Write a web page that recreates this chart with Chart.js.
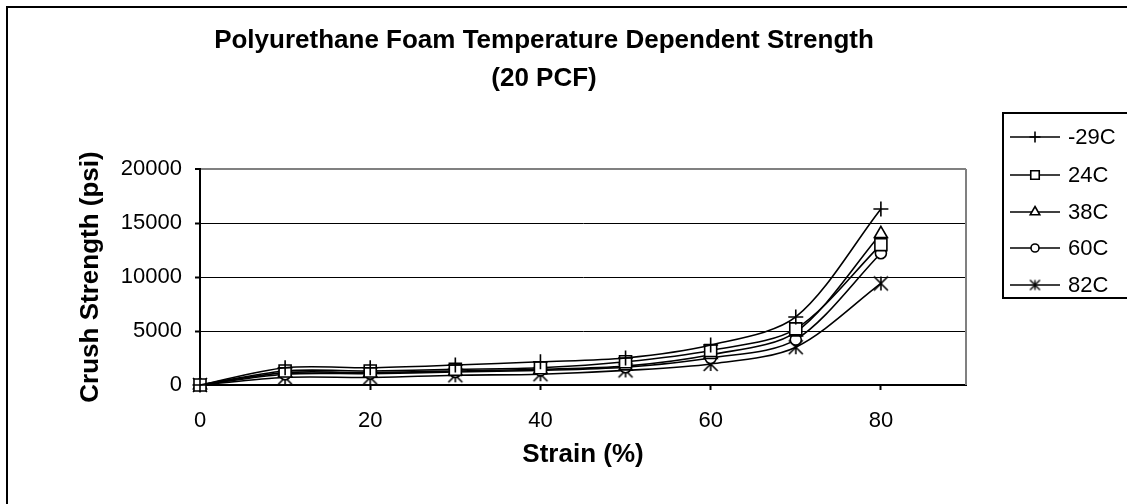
<!DOCTYPE html>
<html>
<head>
<meta charset="utf-8">
<script src="https://cdn.jsdelivr.net/npm/chart.js@4.4.0/dist/chart.umd.min.js"></script>
<style>
  html, body { margin: 0; padding: 0; background: #fff; overflow: hidden; }
  #c { display: block; }
</style>
</head>
<body>
<canvas id="c" width="1127" height="504"></canvas>
<script>
const FONT = '"Liberation Sans", Arial, Helvetica, sans-serif';

// data
const strain = [0, 10, 20, 30, 40, 50, 60, 70, 80];
const minus29C = [0, 1600, 1600, 1850, 2150, 2500, 3700, 6300, 16300];
const plus24C = [0, 1300, 1300, 1450, 1600, 2150, 3200, 5200, 13000];
const plus38C = [0, 1150, 1150, 1300, 1450, 1750, 2800, 4900, 14000];
const plus60C = [0, 1000, 1050, 1200, 1350, 1650, 2500, 4200, 12200];
const plus82C = [0, 700, 700, 900, 1000, 1350, 1950, 3500, 9400];

const seriesNames = ['-29C', '24C', '38C', '60C', '82C'];
const seriesValues = [minus29C, plus24C, plus38C, plus60C, plus82C];

const xTicks = [0, 20, 40, 60, 80];
const yTicks = [0, 5000, 10000, 15000, 20000];

// Excel-like "star" marker: an X with a vertical bar
function starMarker(r, lw) {
  const c = document.createElement('canvas');
  const s = Math.ceil(r * 2 + lw * 2);
  c.width = s; c.height = s;
  const g = c.getContext('2d');
  const m = s / 2;
  g.strokeStyle = '#000';
  g.lineWidth = lw;
  g.beginPath();
  g.moveTo(m - r, m - r); g.lineTo(m + r, m + r);
  g.moveTo(m + r, m - r); g.lineTo(m - r, m + r);
  g.moveTo(m, m - r); g.lineTo(m, m + r);
  g.stroke();
  return c;
}

const markerStyles = ['cross', 'rect', 'triangle', 'circle', starMarker(7, 1.6)];
const legendStyles = ['cross', 'rect', 'triangle', 'circle', starMarker(5, 1.4)];
const markerSizes = [7.5, 8.5, 7.5, 5.5, 7];
const legendSizes = [5.5, 6, 5.5, 4, 5.5];

const datasets = seriesNames.map((name, i) => ({
  label: name,
  data: strain.map((x, j) => ({ x, y: seriesValues[i][j] })),
  borderColor: '#000',
  borderWidth: 1.6,
  tension: 0.3,
  pointStyle: markerStyles[i],
  pointRadius: markerSizes[i],
  pointBorderColor: '#000',
  pointBackgroundColor: '#fff',
  pointBorderWidth: 1.6,
  clip: false,
}));

// outer frame + plot area border
const framePlugin = {
  id: 'frame',
  beforeDraw(chart) {
    const ctx = chart.ctx;
    ctx.save();
    ctx.fillStyle = '#fff';
    ctx.fillRect(0, 0, chart.width, chart.height);
    ctx.strokeStyle = '#000';
    ctx.lineWidth = 2;
    ctx.strokeRect(7, 7, 1400, 800);
    ctx.restore();
  },
  beforeDatasetsDraw(chart) {
    const { ctx, chartArea: a } = chart;
    ctx.save();
    ctx.strokeStyle = '#808080';
    ctx.lineWidth = 2;
    ctx.beginPath();
    ctx.moveTo(a.right, a.top);
    ctx.lineTo(a.right, a.bottom);
    ctx.stroke();
    ctx.restore();
  },
};

const titlePlugin = {
  id: 'twoLineTitle',
  afterDraw(chart) {
    const ctx = chart.ctx;
    ctx.save();
    ctx.fillStyle = '#000';
    ctx.font = 'bold 26px ' + FONT;
    ctx.textAlign = 'center';
    ctx.textBaseline = 'middle';
    ctx.fillText('Polyurethane Foam Temperature Dependent Strength', 544, 41);
    ctx.fillText('(20 PCF)', 544, 79);
    ctx.restore();
  },
};

const legendPlugin = {
  id: 'boxLegend',
  afterDraw(chart) {
    const ctx = chart.ctx;
    ctx.save();
    ctx.strokeStyle = '#000';
    ctx.lineWidth = 2;
    ctx.strokeRect(1003, 113, 300, 185);
    const rows = [137, 175, 212, 248, 285];
    ctx.font = '22px ' + FONT;
    ctx.textBaseline = 'middle';
    ctx.textAlign = 'left';
    seriesNames.forEach((name, i) => {
      const y = rows[i];
      ctx.strokeStyle = '#000';
      ctx.lineWidth = 1.6;
      ctx.beginPath();
      ctx.moveTo(1010, y);
      ctx.lineTo(1060, y);
      ctx.stroke();
      ctx.fillStyle = '#fff';
      ctx.strokeStyle = '#000';
      Chart.helpers.drawPoint(ctx, { pointStyle: legendStyles[i], radius: legendSizes[i], rotation: 0, borderWidth: 1.6 }, 1035, y);
      ctx.fillStyle = '#000';
      ctx.fillText(name, 1068, y + 1);
    });
    ctx.restore();
  },
};

new Chart(document.getElementById('c'), {
  type: 'line',
  data: { datasets },
  plugins: [framePlugin, titlePlugin, legendPlugin],
  options: {
    responsive: false,
    animation: false,
    devicePixelRatio: 1,
    layout: { padding: { top: 169, right: 161, left: 0, bottom: 0 } },
    plugins: {
      legend: { display: false },
      title: { display: false },
      tooltip: { enabled: false },
    },
    scales: {
      x: {
        type: 'linear',
        min: 0,
        max: 90,
        afterBuildTicks: (s) => { s.ticks = xTicks.map(v => ({ value: v })); },
        afterFit: (s) => { s.height = 119; },
        ticks: { color: '#000', font: { family: FONT, size: 22 }, padding: 18, maxRotation: 0, autoSkip: false, callback: (v) => String(v) },
        grid: { drawOnChartArea: false, drawTicks: true, tickLength: 5, tickColor: '#000', tickWidth: 2 },
        border: { color: '#000', width: 2 },
        title: {
          display: true, text: 'Strain (%)', color: '#000',
          font: { family: FONT, size: 26, weight: 'bold' },
          padding: { top: 0, bottom: 34 },
        },
      },
      y: {
        min: 0,
        max: 20000,
        afterBuildTicks: (s) => { s.ticks = yTicks.map(v => ({ value: v })); },
        afterFit: (s) => { s.width = 200; },
        ticks: { color: '#000', font: { family: FONT, size: 22 }, padding: 13, callback: (v) => String(v) },
        grid: {
          color: (c) => (c.tick && c.tick.value === 20000 ? '#808080' : '#000'),
          lineWidth: (c) => (c.tick && c.tick.value === 20000 ? 2 : 1),
          drawTicks: true, tickLength: 5, tickColor: '#000', tickWidth: 2,
        },
        border: { color: '#000', width: 2 },
        title: {
          display: true, text: 'Crush Strength (psi)', color: '#000',
          font: { family: FONT, size: 26, weight: 'bold' },
          padding: { top: 75, bottom: 0 },
        },
      },
    },
  },
});
</script>
</body>
</html>
